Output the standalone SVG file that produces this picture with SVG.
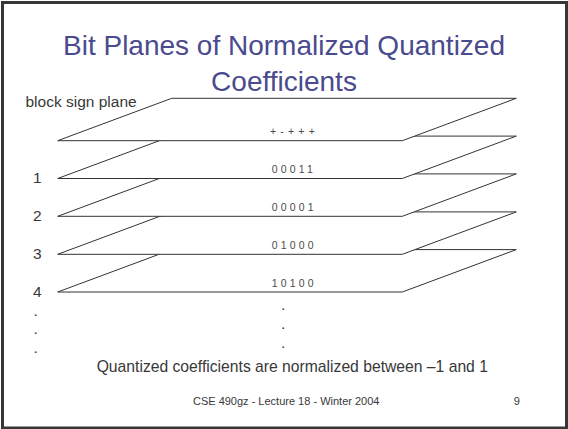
<svg xmlns="http://www.w3.org/2000/svg" width="568" height="429" viewBox="0 0 568 429">
  <style>
    text { font-family: "Liberation Sans", Arial, sans-serif; fill: #383838; }
    .title { font-size: 28px; fill: #4a4a8e; text-anchor: middle; }
    .label { font-size: 15.5px; }
    .bits { font-size: 10.5px; letter-spacing: 3.2px; fill: #4a4a4a; }
    .plane { fill: #ffffff; stroke: #333333; stroke-width: 1; stroke-linejoin: miter; }
    .small { font-size: 11px; }
  </style>
  <defs>
    <!-- one bit plane: a parallelogram whose bottom-left corner is at the origin -->
    <polygon id="planeShape" class="plane" points="0,0 114,-42.4 458.6,-42.4 344.6,0"/>
  </defs>

  <rect x="0" y="0" width="568" height="429" fill="#ffffff"/>
  <rect x="2.5" y="2.5" width="564" height="425.5" fill="none" stroke="#363636" stroke-width="3"/>

  <g id="title">
    <text class="title" x="284" y="55">Bit Planes of Normalized Quantized</text>
    <text class="title" x="284" y="90.5">Coefficients</text>
  </g>

  <!-- planes are stacked from the lowest upward so each one hides the one below it -->
  <g id="plane-4">
    <use href="#planeShape" x="57.7" y="292"/>
    <text class="bits" x="271.7" y="286.5">10100</text>
  </g>
  <g id="plane-3">
    <use href="#planeShape" x="57.7" y="254.3"/>
    <text class="bits" x="271.7" y="248.7">01000</text>
  </g>
  <g id="plane-2">
    <use href="#planeShape" x="57.7" y="216.3"/>
    <text class="bits" x="271.7" y="210.7">00001</text>
  </g>
  <g id="plane-1">
    <use href="#planeShape" x="57.7" y="178.5"/>
    <text class="bits" x="271.7" y="172.7">00011</text>
  </g>
  <g id="sign-plane">
    <use href="#planeShape" x="57.7" y="140.7"/>
    <text class="bits" x="270" y="135" style="letter-spacing:4.2px">+-+++</text>
  </g>

  <g id="labels">
    <text class="label" x="25.5" y="106.7">block sign plane</text>
    <text class="label" x="33" y="182.7">1</text>
    <text class="label" x="33" y="221">2</text>
    <text class="label" x="33" y="259.3">3</text>
    <text class="label" x="33" y="296.7">4</text>
    <text class="label" x="33.5" y="315.5">.</text>
    <text class="label" x="33.5" y="334">.</text>
    <text class="label" x="33.5" y="352.5">.</text>
    <text class="label" x="281" y="310">.</text>
    <text class="label" x="281" y="329.3">.</text>
    <text class="label" x="281" y="348.3">.</text>
  </g>

  <g id="caption">
    <text class="label" x="292.3" y="371.7" text-anchor="middle" style="font-size:15.7px">Quantized coefficients are normalized between –1 and 1</text>
  </g>

  <g id="footer">
    <text class="small" x="286.2" y="405" text-anchor="middle">CSE 490gz - Lecture 18 - Winter 2004</text>
    <text class="small" x="516.7" y="405" text-anchor="middle">9</text>
  </g>
</svg>
